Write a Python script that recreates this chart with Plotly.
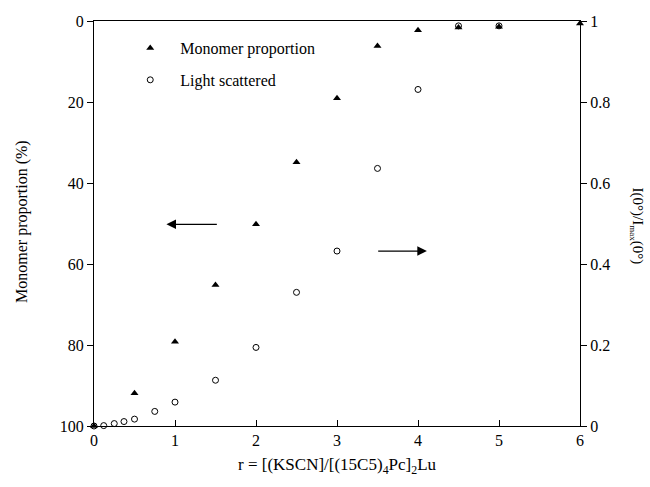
import plotly.graph_objects as go

# Monomer proportion (%) - left axis (reversed)
mono_r = [0, 0.5, 1, 1.5, 2, 2.5, 3, 3.5, 4, 4.5, 5, 6]
mono_pct = [100, 91.9, 79.2, 65.2, 50.2, 34.9, 19.1, 6.2, 2.3, 1.6, 1.4, 0.6]

# Light scattered I(0)/Imax(0) - right axis
light_r = [0, 0.12, 0.25, 0.37, 0.5, 0.75, 1, 1.5, 2, 2.5, 3, 3.5, 4, 4.5, 5]
light_val = [0.0, 0.001, 0.006, 0.011, 0.017, 0.036, 0.059, 0.113, 0.194, 0.33,
             0.432, 0.636, 0.831, 0.988, 0.988]

x_ticks = [0, 1, 2, 3, 4, 5, 6]
left_ticks = [0, 20, 40, 60, 80, 100]
right_ticks = [0, 0.2, 0.4, 0.6, 0.8, 1]
right_ticktext = ["0", "0.2", "0.4", "0.6", "0.8", "1"]

FONT = "Liberation Serif"

fig = go.Figure()
fig.add_trace(go.Scatter(
    x=mono_r, y=mono_pct, mode="markers", name="Monomer proportion",
    marker=dict(symbol="triangle-up", size=7, color="black"),
    yaxis="y", legendgroup="a", cliponaxis=False))
fig.add_trace(go.Scatter(
    x=light_r, y=light_val, mode="markers", name="Light scattered",
    marker=dict(symbol="circle-open", size=6, color="black", line=dict(width=1)),
    yaxis="y2", legendgroup="b", cliponaxis=False))

axis_common = dict(showgrid=False, zeroline=False, showline=True,
                   linecolor="black", linewidth=1.3, tickcolor="black",
                   ticklen=6, tickfont=dict(family=FONT, size=16, color="black"))

fig.update_layout(
    width=650, height=487,
    margin=dict(l=94, r=70, t=21, b=61),
    paper_bgcolor="white", plot_bgcolor="white",
    font=dict(family=FONT, size=16, color="black"),
    xaxis=dict(range=[0, 6], tickvals=x_ticks, ticks="inside", mirror=True,
               **axis_common),
    yaxis=dict(range=[100, 0], tickvals=left_ticks, ticks="outside",
               **axis_common),
    yaxis2=dict(range=[0, 1], tickvals=right_ticks, ticktext=right_ticktext,
                overlaying="y", side="right", ticks="outside", **axis_common),
    showlegend=True,
    legend=dict(x=0.054, y=0.975, xanchor="left", yanchor="top",
                bgcolor="rgba(0,0,0,0)", tracegroupgap=8, itemwidth=50,
                font=dict(family=FONT, size=16, color="black")),
    annotations=[
        dict(text="Monomer proportion (%)", xref="paper", yref="paper",
             x=-0.148, y=0.504, xanchor="center", yanchor="middle",
             textangle=-90, showarrow=False,
             font=dict(family=FONT, size=16)),
        dict(text="I(0°)/I<sub><span style='font-size:9px'>max</span></sub>(0°)",
             xref="paper", yref="paper",
             x=1.118, y=0.494, xanchor="center", yanchor="middle",
             textangle=90, showarrow=False,
             font=dict(family=FONT, size=15)),
        dict(text="r = [(KSCN]/[(15C5)<sub>4</sub>Pc]<sub>2</sub>Lu",
             xref="paper", yref="paper", x=0.5, y=-0.099, xanchor="center",
             yanchor="middle", showarrow=False,
             font=dict(family=FONT, size=17)),
        dict(x=0.894, y=50.2, ax=1.535, ay=50.2, xref="x", yref="y",
             axref="x", ayref="y", text="", showarrow=True, arrowhead=2,
             arrowsize=1.6, arrowwidth=1.2, arrowcolor="black"),
        dict(x=4.11, y=56.8, ax=3.49, ay=56.8, xref="x", yref="y",
             axref="x", ayref="y", text="", showarrow=True, arrowhead=2,
             arrowsize=1.6, arrowwidth=1.2, arrowcolor="black"),
    ],
)

fig.write_html("out.html")
